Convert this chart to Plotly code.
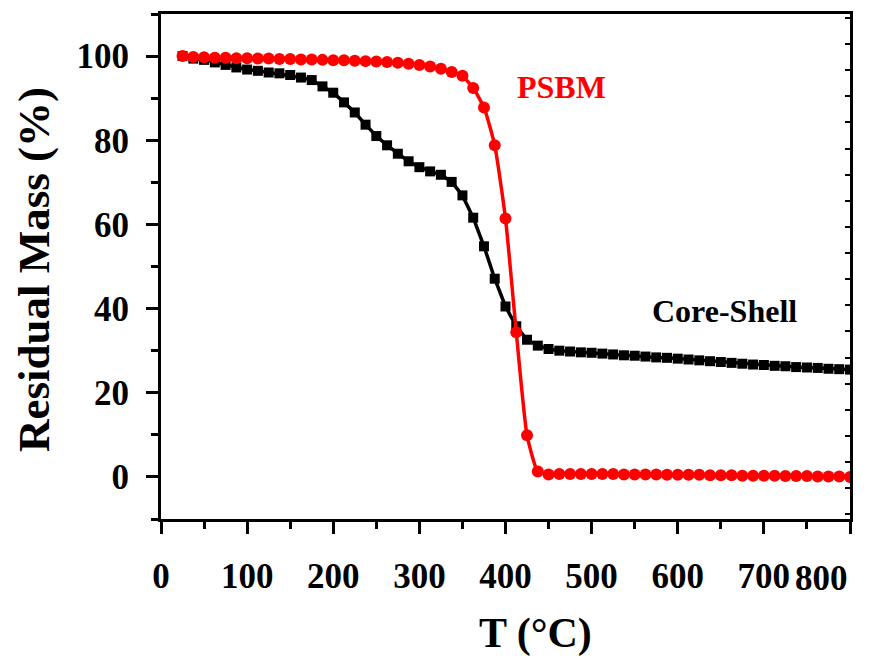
import plotly.graph_objects as go

# Temperature grid (°C), 12.5 °C steps
T = [25 + 12.5 * i for i in range(63)]

core_shell = [
    100.0, 99.4, 99.1, 98.5, 97.9, 97.3, 96.8, 96.5, 96.1, 95.9,
    95.5, 94.9, 94.3, 92.8, 91.3, 89.0, 86.6, 83.7, 81.0, 78.8,
    76.8, 75.0, 73.6, 72.6, 71.8, 70.1, 66.9, 61.6, 54.8, 47.1,
    40.5, 35.8, 32.6, 31.2, 30.4,
    30.0, 29.8, 29.6, 29.5, 29.3, 29.1, 28.9, 28.8, 28.6, 28.4,
    28.3, 28.1, 27.9, 27.7, 27.5, 27.3, 27.1, 26.9, 26.7, 26.6,
    26.4, 26.3, 26.1, 26.0, 25.9, 25.7, 25.6, 25.5,
]

psbm = [
    100.0, 99.8, 99.7, 99.6, 99.6, 99.5, 99.5, 99.4, 99.4, 99.3,
    99.3, 99.2, 99.2, 99.1, 99.0, 99.0, 98.9, 98.8, 98.7, 98.6,
    98.4, 98.2, 97.9, 97.5, 97.0, 96.2, 95.3, 92.4, 87.8, 78.8,
    61.4, 34.4, 9.9, 1.3, 0.6,
    0.7, 0.7, 0.7, 0.7, 0.7, 0.7, 0.6, 0.6, 0.6, 0.6,
    0.5, 0.5, 0.5, 0.5, 0.4, 0.4, 0.4, 0.3, 0.3, 0.3,
    0.3, 0.2, 0.2, 0.2, 0.1, 0.1, 0.1, 0.0,
]

x_ticks = [0, 100, 200, 300, 400, 500, 600, 700, 800]
y_ticks = [0, 20, 40, 60, 80, 100]

FONT = "Times New Roman, Liberation Serif, serif"

fig = go.Figure()
fig.add_trace(go.Scatter(
    x=T, y=core_shell, mode="lines+markers", name="Core-Shell",
    line=dict(color="black", width=3.5),
    marker=dict(symbol="square", size=10, color="black"),
    showlegend=False, hoverinfo="skip"))
fig.add_trace(go.Scatter(
    x=T, y=psbm, mode="lines+markers", name="PSBM",
    line=dict(color="#ff0000", width=3.5, shape="spline", smoothing=0.5),
    marker=dict(symbol="circle", size=12, color="#ff0000"),
    showlegend=False, hoverinfo="skip"))
# dummy trace to materialise the right-hand axis
fig.add_trace(go.Scatter(x=[None], y=[None], yaxis="y2", showlegend=False,
                         hoverinfo="skip"))

fig.add_annotation(x=465, y=92.6, xref="x", yref="y", text="<b>PSBM</b>",
                   showarrow=False, font=dict(family=FONT, size=32, color="#ff0000"))
fig.add_annotation(x=654, y=39.5, xref="x", yref="y", text="<b>Core-Shell</b>",
                   showarrow=False, font=dict(family=FONT, size=32, color="black"))

# last x tick label sits flush with the right edge in the reference
fig.add_annotation(x=1.0, y=-(578 - 519) / 505, xref="paper", yref="paper",
                   xanchor="right", yanchor="middle",
                   text=f"<b>{x_ticks[-1]}</b>", showarrow=False,
                   font=dict(family=FONT, size=35, color="black"))

# axis titles as annotations (paper coordinates relative to plot area 161..850, 14..519)
fig.add_annotation(x=(535 - 161) / 689, y=-(633 - 519) / 505, xref="paper", yref="paper",
                   xanchor="center", yanchor="middle",
                   text="<b>T (°C)</b>", showarrow=False,
                   font=dict(family=FONT, size=42, color="black"))
fig.add_annotation(x=(34 - 161) / 689, y=1 - (270 - 14) / 505, xref="paper", yref="paper",
                   xanchor="center", yanchor="middle", textangle=-90,
                   text="<b>Residual Mass (%)</b>", showarrow=False,
                   font=dict(family=FONT, size=45, color="black"))

fig.update_layout(
    width=871, height=660,
    margin=dict(l=161, r=21, t=14, b=141),
    paper_bgcolor="white", plot_bgcolor="white",
    font=dict(family=FONT, color="black"),
    xaxis=dict(
        range=[-0.001, 800.001], tickvals=x_ticks,
        ticktext=[f"<b>{v}</b>" if v != x_ticks[-1] else "" for v in x_ticks],
        ticks="outside", ticklen=12, tickwidth=3, tickcolor="black",
        showline=True, linewidth=3, linecolor="black", mirror=True,
        showgrid=False, zeroline=False,
        tickfont=dict(family=FONT, size=35, color="black"),
        ticklabelstandoff=12,
        minor=dict(dtick=50, tick0=0, ticks="outside", ticklen=7, tickwidth=3,
                   tickcolor="black", showgrid=False),
    ),
    yaxis=dict(
        range=[-10, 110], tickvals=y_ticks, ticktext=[f"<b>{v}</b>" for v in y_ticks],
        ticks="outside", ticklen=12, tickwidth=3, tickcolor="black",
        showline=True, linewidth=3, linecolor="black", mirror=True,
        showgrid=False, zeroline=False,
        tickfont=dict(family=FONT, size=35, color="black"),
        ticklabelstandoff=10,
        minor=dict(dtick=10, tick0=0, ticks="outside", ticklen=7, tickwidth=3,
                   tickcolor="black", showgrid=False),
    ),
    yaxis2=dict(
        overlaying="y", side="right", range=[-10, 110],
        tick0=-2.7, dtick=6.21, ticks="inside", ticklen=5, tickwidth=2,
        tickcolor="black", showticklabels=False, showgrid=False,
        zeroline=False, showline=True, linewidth=3, linecolor="black",
    ),
)

fig.write_html("out.html")
